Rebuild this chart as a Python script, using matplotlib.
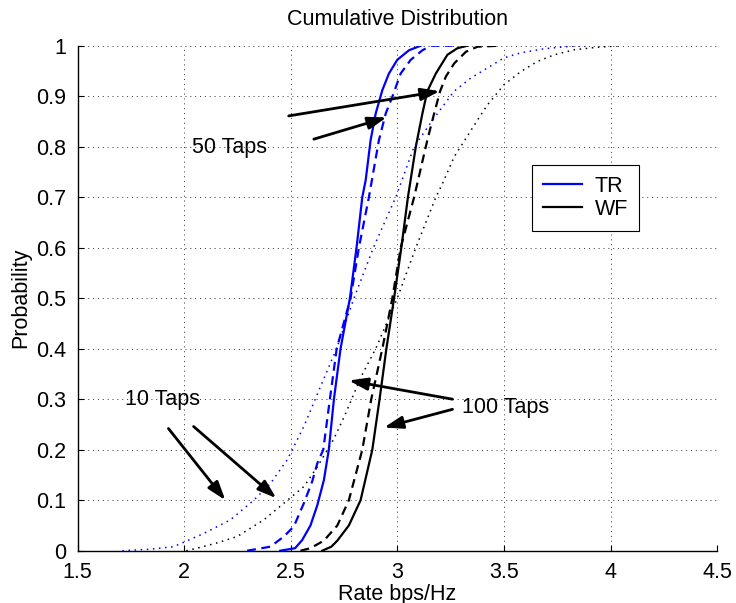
import matplotlib
matplotlib.use("Agg")
import matplotlib.pyplot as plt

plt.rcParams["font.family"] = ["Liberation Sans", "DejaVu Sans"]
FS = 15.5

# Empirical CDFs of the achievable rate (bps/Hz)
# TR = time reversal, WF = water filling; 10 / 50 / 100 channel taps
tr100_x = [2.45, 2.52, 2.553, 2.592, 2.624, 2.655, 2.678, 2.702, 2.733, 2.777, 2.808,
           2.835, 2.851, 2.874, 2.898, 2.929, 2.960, 2.999, 3.054, 3.109]
tr100_y = [0.0, 0.005, 0.021, 0.05, 0.09, 0.14, 0.2, 0.3, 0.4, 0.5, 0.6,
           0.7, 0.734, 0.813, 0.866, 0.912, 0.945, 0.972, 0.991, 1.0]

tr50_x = [2.295, 2.404, 2.467, 2.514, 2.561, 2.600, 2.624, 2.652, 2.683, 2.715, 2.780,
          2.819, 2.866, 2.913, 2.945, 2.976, 3.015, 3.062, 3.117, 3.156, 3.258]
tr50_y = [0.0, 0.008, 0.028, 0.048, 0.094, 0.137, 0.173, 0.2, 0.3, 0.4, 0.5,
          0.6, 0.7, 0.813, 0.866, 0.899, 0.945, 0.972, 0.991, 1.0, 1.0]

tr10_x = [1.71, 1.84, 1.95, 2.091, 2.216, 2.326, 2.404, 2.483, 2.561, 2.645, 2.714,
          2.796, 2.887, 2.992, 3.078, 3.172, 3.266, 3.344, 3.422, 3.500, 3.579,
          3.688, 3.814, 3.90]
tr10_y = [0.0, 0.003, 0.008, 0.034, 0.061, 0.100, 0.133, 0.180, 0.246, 0.331, 0.40,
          0.50, 0.60, 0.70, 0.80, 0.857, 0.910, 0.936, 0.956, 0.976, 0.986,
          0.994, 0.999, 1.0]

wf100_x = [2.647, 2.69, 2.718, 2.772, 2.827, 2.882, 2.916, 2.948, 2.984, 3.018, 3.049,
           3.086, 3.117, 3.140, 3.180, 3.234, 3.281, 3.328]
wf100_y = [0.0, 0.008, 0.02, 0.05, 0.1, 0.2, 0.3, 0.4, 0.5, 0.6, 0.7,
           0.8, 0.866, 0.910, 0.945, 0.982, 0.995, 1.0]

wf50_x = [2.545, 2.592, 2.655, 2.718, 2.772, 2.835, 2.877, 2.929, 2.976, 3.015, 3.078,
          3.140, 3.172, 3.200, 3.227, 3.266, 3.321, 3.375, 3.48]
wf50_y = [0.0, 0.005, 0.02, 0.05, 0.1, 0.2, 0.3, 0.4, 0.5, 0.6, 0.7,
          0.813, 0.866, 0.910, 0.939, 0.965, 0.988, 0.998, 1.0]

wf10_x = [2.01, 2.06, 2.15, 2.248, 2.373, 2.467, 2.561, 2.624, 2.70, 2.75, 2.83,
          2.898, 2.999, 3.086, 3.180, 3.211, 3.266, 3.368, 3.422, 3.500, 3.579,
          3.657, 3.735, 3.829, 3.939, 4.05]
wf10_y = [0.0, 0.005, 0.015, 0.028, 0.061, 0.094, 0.127, 0.166, 0.22, 0.265, 0.345,
          0.40, 0.50, 0.60, 0.70, 0.727, 0.78, 0.848, 0.883, 0.923, 0.949,
          0.969, 0.982, 0.992, 0.997, 1.0]

x_ticks = [1.5, 2, 2.5, 3, 3.5, 4, 4.5]
x_tick_labels = ["1.5", "2", "2.5", "3", "3.5", "4", "4.5"]
y_ticks = [0, 0.1, 0.2, 0.3, 0.4, 0.5, 0.6, 0.7, 0.8, 0.9, 1]
y_tick_labels = ["0", "0.1", "0.2", "0.3", "0.4", "0.5", "0.6", "0.7", "0.8", "0.9", "1"]

# Annotations: label text position and arrow (tail -> head) in data units
annotations = [
    ("50 Taps", (2.038, 0.799), [((2.490, 0.861), (3.198, 0.910)),
                                 ((2.608, 0.815), (2.949, 0.858))]),
    ("10 Taps", (1.723, 0.300), [((1.926, 0.242), (2.193, 0.100)),
                                 ((2.044, 0.246), (2.432, 0.104))]),
    ("100 Taps", (3.302, 0.283), [((3.258, 0.300), (2.772, 0.337)),
                                  ((3.258, 0.280), (2.937, 0.244))]),
]

fig = plt.figure(figsize=(7.36, 6.03), dpi=100)
ax = fig.add_axes([0.1054, 0.0867, 0.8693, 0.8375])

blue = "#0000ff"
dash = (0, (4, 2.5))
dot = (0, (1, 3))

ax.plot(tr100_x, tr100_y, color=blue, lw=1.6, label="TR", zorder=4)
ax.plot(wf100_x, wf100_y, color="k", lw=1.6, label="WF", zorder=4)
ax.plot(tr50_x, tr50_y, color=blue, lw=1.6, linestyle=dash, zorder=4)
ax.plot(wf50_x, wf50_y, color="k", lw=1.6, linestyle=dash, zorder=4)
ax.plot(tr10_x, tr10_y, color=blue, lw=1.1, linestyle=dot, zorder=4)
ax.plot(wf10_x, wf10_y, color="k", lw=1.1, linestyle=dot, zorder=4)

for text, pos, arrows in annotations:
    ax.text(pos[0], pos[1], text, fontsize=FS, ha="left", va="center", zorder=6)
    for tail, head in arrows:
        ax.annotate("", xy=head, xytext=tail,
                    arrowprops=dict(arrowstyle="-|>,head_length=0.75,head_width=0.25",
                                    mutation_scale=15, lw=2.0, color="k",
                                    shrinkA=0, shrinkB=0),
                    zorder=6)

ax.set_xlim(1.5, 4.5)
ax.set_ylim(0, 1)
ax.set_xticks(x_ticks)
ax.set_xticklabels(x_tick_labels)
ax.set_yticks(y_ticks)
ax.set_yticklabels(y_tick_labels)
ax.tick_params(direction="in", length=4.5, width=0.8, labelsize=FS)
ax.tick_params(axis="x", pad=8)
ax.tick_params(axis="y", pad=8)
for side in ("top", "right"):
    ax.spines[side].set_visible(False)
for side in ("left", "bottom"):
    ax.spines[side].set_linewidth(1.0)
    ax.spines[side].set_color("k")

ax.grid(True, linestyle=(0, (1, 4)), color="#333333", lw=0.7)
ax.set_axisbelow(True)

ax.set_title("Cumulative Distribution", fontsize=FS, pad=15)
ax.set_xlabel("Rate bps/Hz", fontsize=FS, labelpad=0.5)
ax.set_ylabel("Probability", fontsize=FS, labelpad=4)

leg = ax.legend(loc="upper left", bbox_to_anchor=(0.711, 0.764), borderaxespad=0,
                fontsize=FS, handlelength=1.8, fancybox=False, framealpha=1,
                edgecolor="k", borderpad=0.5, labelspacing=0.1, handletextpad=0.6)
leg.get_frame().set_linewidth(0.8)
leg.set_zorder(7)

fig.savefig("out.png", dpi=100)
